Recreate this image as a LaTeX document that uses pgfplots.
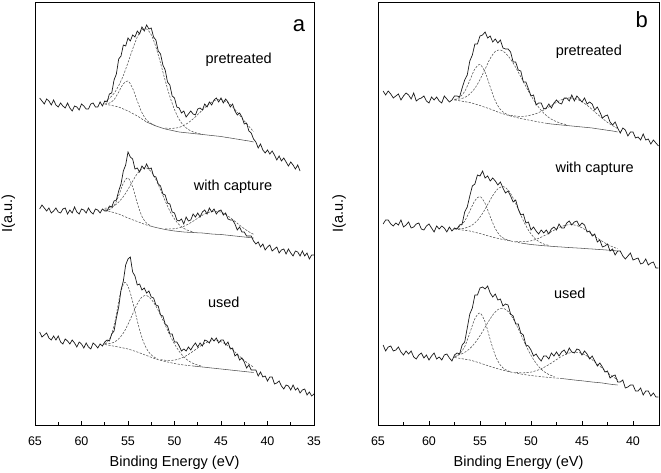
\documentclass[border=0pt]{standalone}
\usepackage{pgfplots}
\pgfplotsset{compat=1.18}
\usepackage{pgfplotstable}
\usepackage{fontspec}
\setmainfont{Liberation Sans}

\pgfplotstableread{
E p c u
64.50 327 216 93
64.25 324 220 88
64.00 321 217 90
63.75 326 214 92
63.50 324 217 87
63.25 320 212 85
63.00 325 214 89
62.75 320 217 85
62.50 318 213 89
62.25 322 212 83
62.00 319 216 81
61.75 317 217 86
61.50 322 211 84
61.25 317 215 81
61.00 314 212 85
60.75 319 218 82
60.50 318 213 78
60.25 315 211 83
60.00 321 216 81
59.75 319 215 77
59.50 316 212 82
59.25 316 217 78
59.00 321 213 76
58.75 322 211 82
58.50 318 216 80
58.25 318 215 77
58.00 323 212 81
57.75 319 216 79
57.50 324 214 83
57.25 323 214 85
57.00 331 219 84
56.75 332 218 91
56.50 345 224 94
56.25 351 225 107
56.00 366 234 118
55.75 369 241 135
55.50 380 254 144
55.25 379 260 160
55.00 387 273 166
54.75 384 268 168
54.50 390 266 153
54.25 388 256 149
54.00 394 257 140
53.75 391 253 141
53.50 398 259 135
53.25 394 256 137
53.00 400 261 132
52.75 396 256 134
52.50 397 257 128
52.25 388 249 127
52.00 385 248 120
51.75 374 241 119
51.50 371 239 110
51.25 360 231 109
51.00 355 230 101
50.75 343 222 99
50.50 340 221 91
50.25 329 213 91
50.00 327 212 83
49.75 318 205 83
49.50 317 204 79
49.25 312 206 74
49.00 314 201 76
48.75 308 208 74
48.50 311 204 78
48.25 314 205 75
48.00 311 211 79
47.75 310 208 82
47.50 316 212 78
47.25 317 208 82
47.00 315 213 79
46.75 321 215 85
46.50 318 211 84
46.25 323 217 82
46.00 320 213 87
45.75 325 216 84
45.50 327 211 87
45.25 323 214 82
45.00 327 215 85
44.75 322 210 85
44.50 326 212 80
44.25 323 206 83
44.00 318 205 76
43.75 321 205 77
43.50 314 201 69
43.25 310 195 71
43.00 312 198 65
42.75 308 193 67
42.50 301 193 63
42.25 302 189 57
42.00 294 189 60
41.75 292 189 55
41.50 286 184 55
41.25 283 181 55
41.00 277 183 49
40.75 281 178 53
40.50 275 181 48
40.25 272 175 49
40.00 275 178 44
39.75 271 180 48
39.50 274 174 48
39.25 270 176 41
39.00 265 178 42
38.75 269 172 44
38.50 264 175 39
38.25 267 176 36
38.00 263 171 40
37.75 259 176 39
37.50 263 172 35
37.25 260 169 40
37.00 256 174 35
36.75 260 173 37
36.50 254 169 32
36.25 nan 174 35
36.00 nan 169 36
35.75 nan 172 30
35.50 nan 166 33
35.25 nan 170 29
35.00 nan 170 31
}\tabA

\pgfplotstableread{
E p c u
64.50 334 201 80
64.25 330 205 74
64.00 334 205 78
63.75 331 201 79
63.50 327 199 74
63.25 329 202 75
63.00 331 200 78
62.75 325 205 73
62.50 329 198 70
62.25 332 200 74
62.00 330 203 71
61.75 326 197 74
61.50 332 198 68
61.25 324 201 66
61.00 326 202 70
60.75 327 196 72
60.50 329 195 67
60.25 324 199 70
60.00 322 201 65
59.75 328 197 69
59.50 325 193 72
59.25 328 199 66
59.00 324 196 68
58.75 322 199 65
58.50 329 197 70
58.25 326 193 71
58.00 323 198 67
57.75 325 194 64
57.50 329 197 70
57.25 329 196 72
57.00 328 200 71
56.75 337 201 80
56.50 345 213 83
56.25 350 218 97
56.00 364 229 111
55.75 370 239 117
55.50 381 241 130
55.25 381 250 130
55.00 389 249 137
54.75 390 254 138
54.50 393 247 136
54.25 387 249 139
54.00 389 244 132
53.75 383 247 128
53.50 386 244 131
53.25 382 240 125
53.00 385 243 126
52.75 377 237 119
52.50 376 232 121
52.25 376 234 120
52.00 373 229 111
51.75 363 223 109
51.50 363 225 101
51.25 355 216 101
51.00 354 210 92
50.75 343 211 90
50.50 343 202 80
50.25 336 203 79
50.00 329 195 75
49.75 330 198 69
49.50 320 194 71
49.25 322 191 67
49.00 322 195 64
48.75 316 192 69
48.50 317 195 69
48.25 321 191 66
48.00 317 196 72
47.75 322 198 69
47.50 325 195 73
47.25 322 201 69
47.00 321 197 73
46.75 327 197 75
46.50 327 202 71
46.25 324 204 77
46.00 330 200 73
45.75 324 203 72
45.50 329 204 76
45.25 326 199 75
45.00 323 202 70
44.75 327 200 74
44.50 321 193 71
44.25 323 194 66
44.00 321 189 69
43.75 315 191 64
43.50 318 183 59
43.25 313 185 62
43.00 307 178 58
42.75 309 179 53
42.50 310 181 54
42.25 303 174 47
42.00 300 176 49
41.75 303 170 50
41.50 297 174 43
41.25 292 174 43
41.00 297 169 45
40.75 295 166 37
40.50 289 169 38
40.25 293 172 40
40.00 293 165 40
39.75 287 166 34
39.50 288 167 34
39.25 285 161 37
39.00 291 162 30
38.75 285 166 34
38.50 286 160 34
38.25 281 162 29
38.00 285 163 32
37.75 282 157 28
37.50 279 157 28
}\tabB

\pgfplotstableread{
E bp bc bu
57.5 321 215 80.5
57.0 320 213.7 79.7
56.5 319 212.3 78.8
56.0 318 211 78
55.5 316 209 77
55.0 314 207 76
54.5 311.5 205.2 74.5
54.0 309 203.5 73
53.5 306 201.7 71.2
53.0 303 200 69.5
52.5 301 198.7 67.7
52.0 299 197.5 66
51.5 297.5 196.5 64.7
51.0 296 195.5 63.5
50.5 295 194.7 62.5
50.0 294 194 61.5
49.5 293 193.5 60.7
49.0 292.5 193 60
48.5 292 192.7 59.5
48.0 291.5 192.5 59
47.5 291 192.2 58.5
47.0 290.5 192 58
46.5 290 191.5 57.5
46.0 289.5 191 57
45.5 289 190.7 56.5
45.0 288.5 190.5 56
44.5 287.7 190 55.5
44.0 287 189.5 55
43.5 286.2 189 54.5
43.0 285.5 188.5 54
42.5 284.7 188 53.5
42.0 284 187.5 53
41.5 283 187 52.5
}\bgA

\pgfplotstableread{
E bp bc bu
57.5 325 196 67.5
57.0 324.2 195.3 66.7
56.5 323.3 194.7 65.8
56.0 322.5 194 65
55.5 321 192.7 63.5
55.0 319.5 191.5 62
54.5 317.7 190 60.2
54.0 316 188.5 58.5
53.5 314 187.2 57
53.0 312 186 55.5
52.5 310.5 185 54.2
52.0 309 184 53
51.5 307.7 183 52
51.0 306.5 182 51
50.5 305.5 181.2 50.2
50.0 304.5 180.5 49.5
49.5 303.5 180 48.9
49.0 302.5 179.5 48.3
48.5 301.7 179.1 47.8
48.0 301 178.7 47.3
47.5 300.5 178.3 46.9
47.0 300 178 46.5
46.5 299.5 177.6 45.9
46.0 299 177.3 45.3
45.5 298.5 177 44.7
45.0 298 176.7 44.2
44.5 297.5 176.3 43.6
44.0 297 176 43
43.5 296.2 175.6 42.5
43.0 295.5 175.3 42
42.5 294.7 174.9 41.2
42.0 294 174.5 40.5
41.5 293 174 40
}\bgB

\pgfplotsset{
  panel/.style={
    scale only axis, height=423pt, x dir=reverse,
    ymin=0, ymax=423, ytick=\empty,
    xtick pos=left, tick align=inside,
    minor x tick num=1,
    major tick length=4pt, minor tick length=2.5pt,
    axis line style={line width=0.9pt},
    every tick/.style={black, line width=0.8pt},
    /pgf/number format/assume math mode=true,
    xticklabel style={font=\fontsize{12.5}{14}\selectfont, yshift=-8pt},
    xlabel={Binding Energy (eV)},
    xlabel style={at={(axis description cs:0.5,0)}, anchor=base, yshift=-42pt, font=\fontsize{14.5}{17}\selectfont},
    ylabel={I(a.u.)},
  },
  dat/.style={no marks, line width=0.7pt, black!90},
  cmp/.style={no marks, smooth, line width=0.55pt, black!68, dash pattern=on 2.2pt off 1.4pt},
  bgs/.style={no marks, smooth, line width=0.55pt, black!68},
}

\begin{document}
\begin{tikzpicture}
\path[use as bounding box] (0,0) rectangle (661pt,473pt);

% ---------------- panel a ----------------
\begin{axis}[panel, at={(35pt,48pt)}, anchor=south west, width=279pt,
  xmin=35, xmax=65, xtick={35,40,...,65},
  ylabel style={at={(axis description cs:-0.0824,0.5)}, anchor=base, font=\fontsize{14.5}{17}\selectfont}]
% backgrounds
\addplot[cmp, restrict x to domain=53:58] table[x=E,y=bp]{\bgA};
\addplot[bgs, restrict x to domain=41:53] table[x=E,y=bp]{\bgA};
\addplot[cmp, restrict x to domain=52.5:58] table[x=E,y=bc]{\bgA};
\addplot[bgs, restrict x to domain=41:52.5] table[x=E,y=bc]{\bgA};
\addplot[cmp, restrict x to domain=48:58] table[x=E,y=bu]{\bgA};
\addplot[bgs, restrict x to domain=41:48] table[x=E,y=bu]{\bgA};
% pretreated components
\addplot[cmp] coordinates {(57.5,321.1) (57,321.9) (56.5,325.3) (56,333) (55.5,341.2) (55,344) (54.5,336.7) (54,324) (53.5,312.3) (53,304.9) (52.5,301.4) (52,299.1)};
\addplot[cmp] coordinates {(57.5,323) (57,326.8) (56.5,331.6) (56,339.4) (55.5,349.5) (55,362.4) (54.5,375.9) (54,388) (53.5,395.3) (53,396) (52.5,390.3) (52,378) (51.5,361.9) (51,344.4) (50.5,328.5) (50,315.4) (49.5,305.6) (49,299.3) (48.5,295.4) (48,293.1) (47.5,291.7) (47,290.8)};
\addplot[cmp] coordinates {(51,296.9) (50.5,296.6) (50,296.8) (49.5,297.6) (49,299.6) (48.5,302.4) (48,306.1) (47.5,310.4) (47,315) (46.5,319.3) (46,322.9) (45.5,325) (45,325.5) (44.5,323.7) (44,320.4) (43.5,315.5) (43,310) (42.5,304.1) (42,298.6) (41.5,293.4)};
% with capture components
\addplot[cmp] coordinates {(57.5,215.2) (57,215.5) (56.5,219.2) (56,229.3) (55.5,241.9) (55,247) (54.5,238.1) (54,221.8) (53.5,208.6) (53,201.8) (52.5,199)};
\addplot[cmp] coordinates {(57.5,216.7) (57,217.3) (56.5,219.1) (56,223) (55.5,228.3) (55,235.6) (54.5,243.8) (54,251.4) (53.5,256.3) (53,257) (52.5,253.3) (52,245.4) (51.5,235.1) (51,224.1) (50.5,214) (50,206) (49.5,200.3) (49,196.6) (48.5,194.4) (48,193.2)};
\addplot[cmp] coordinates {(51,196.2) (50.5,196.1) (50,196.3) (49.5,197.2) (49,198.7) (48.5,201) (48,203.8) (47.5,206.8) (47,209.8) (46.5,212) (46,213.4) (45.5,213.7) (45,212.9) (44.5,210.5) (44,207.3) (43.5,203.6) (43,199.8) (42.5,196.3) (42,193.2) (41.5,190.7)};
% used components
\addplot[cmp] coordinates {(57.5,81) (57.35,82.2) (56.85,88.3) (56.35,105.6) (55.85,130.5) (55.35,142.7) (54.85,135) (54.35,117.7) (53.85,98.6) (53.35,83.4) (52.85,74) (52.35,68.8) (51.85,66.3)};
\addplot[cmp] coordinates {(57.5,81.2) (57,81.4) (56.5,82.8) (56,86.1) (55.5,91.9) (55,100.7) (54.5,110.9) (54,121.1) (53.5,128) (53,129.5) (52.5,125.8) (52,118.9) (51.5,110) (51,99.9) (50.5,90) (50,81) (49.5,73.7) (49,68.1) (48.5,64.3) (48,61.6) (47.5,59.9) (47,58.7)};
\addplot[cmp] coordinates {(51.5,65.4) (51,64.7) (50.5,64.6) (50,64.9) (49.5,66.1) (49,67.9) (48.5,70.6) (48,73.7) (47.5,77) (47,80.2) (46.5,82.8) (46,84.3) (45.5,84.5) (45,83.3) (44.5,80.8) (44,77.2) (43.5,73) (43,68.7) (42.5,64.6) (42,60.9) (41.5,57.9)};
% spectra
\addplot[dat] table[x=E,y=p]{\tabA};
\addplot[dat] table[x=E,y=c]{\tabA};
\addplot[dat] table[x=E,y=u]{\tabA};
\node[anchor=base, font=\fontsize{14.5}{17}\selectfont] at (axis cs:43.1,361) {pretreated};
\node[anchor=base, font=\fontsize{14.5}{17}\selectfont] at (axis cs:43.7,234) {with capture};
\node[anchor=base, font=\fontsize{14.5}{17}\selectfont] at (axis cs:44.7,117) {used};
\node[anchor=base, font=\fontsize{22}{24}\selectfont] at (axis cs:36.6,393) {a};
\end{axis}

% ---------------- panel b ----------------
\begin{axis}[panel, at={(378pt,48pt)}, anchor=south west, width=281pt,
  xmin=37.45, xmax=65, xtick={40,45,...,65},
  ylabel style={at={(axis description cs:-0.1246,0.5)}, anchor=base, font=\fontsize{14.5}{17}\selectfont}]
\addplot[cmp, restrict x to domain=48.5:58] table[x=E,y=bp]{\bgB};
\addplot[bgs, restrict x to domain=41:48.5] table[x=E,y=bp]{\bgB};
\addplot[cmp, restrict x to domain=51:58] table[x=E,y=bc]{\bgB};
\addplot[bgs, restrict x to domain=41:51] table[x=E,y=bc]{\bgB};
\addplot[cmp, restrict x to domain=47:58] table[x=E,y=bu]{\bgB};
\addplot[bgs, restrict x to domain=41:47] table[x=E,y=bu]{\bgB};
% pretreated components
\addplot[cmp] coordinates {(57.5,325.2) (57,327.7) (56.5,333.5) (56,344.6) (55.5,356.1) (55,360.5) (54.5,352.8) (54,338.1) (53.5,324.2) (53,315.5) (52.5,311.4) (52,309.2)};
\addplot[cmp] coordinates {(57.5,325.7) (57,326) (56.5,327.5) (56,331) (55.5,336.7) (55,345.4) (54.5,355.9) (54,366.5) (53.5,373.6) (53,375) (52.5,371.9) (52,365.8) (51.5,357.6) (51,348.2) (50.5,338.5) (50,329.4) (49.5,321.3) (49,314.6) (48.5,309.4) (48,305.8) (47.5,303.3) (47,301.5) (46.5,300.3)};
\addplot[cmp] coordinates {(52,309.7) (51.5,308.9) (51,308.6) (50.5,308.9) (50,309.9) (49.5,311.4) (49,313.6) (48.5,316.4) (48,319.5) (47.5,322.7) (47,325.3) (46.5,326.8) (46,327) (45.5,325.8) (45,323.3) (44.5,319.7) (44,315.5) (43.5,310.9) (43,306.6) (42.5,302.6) (42,299.4) (41.5,296.4)};
% with capture components
\addplot[cmp] coordinates {(57.5,196.2) (57,198.4) (56.5,203.9) (56,213.9) (55.5,224.4) (55,228.5) (54.5,221.7) (54,208.4) (53.5,196.4) (53,189.1) (52.5,185.8) (52,184.2)};
\addplot[cmp] coordinates {(57.5,196.1) (57.2,196.2) (56.7,196.4) (56.2,197.8) (55.7,200.4) (55.2,205.2) (54.7,212.4) (54.2,221.3) (53.7,230.2) (53.2,236.6) (52.7,238.4) (52.2,234.5) (51.7,225.9) (51.2,214.6) (50.7,203.3) (50.2,194) (49.7,187.4) (49.2,183.2) (48.7,180.8) (48.2,179.5)};
\addplot[cmp] coordinates {(51.5,183.7) (51,183.4) (50.5,183.5) (50,184.2) (49.5,185.7) (49,187.8) (48.5,190.4) (48,193.3) (47.5,196.1) (47,198.5) (46.5,200) (46,200.3) (45.5,199.4) (45,197.2) (44.5,194.1) (44,190.6) (43.5,186.9) (43,183.6) (42.5,180.6) (42,178.2) (41.5,176.3)};
% used components
\addplot[cmp] coordinates {(57.5,67.7) (57,71) (56.5,78.3) (56,92) (55.5,106.4) (55,112) (54.5,103.1) (54,85.5) (53.5,69.5) (53,59.8) (52.5,55.3) (52,53.3)};
\addplot[cmp] coordinates {(57.5,68.5) (57.2,69.7) (56.7,71.5) (56.2,74.7) (55.7,79.5) (55.2,86.2) (54.7,94.3) (54.2,103) (53.7,110.7) (53.2,115.7) (52.7,116.7) (52.2,113.1) (51.7,105.5) (51.2,95.2) (50.7,83.9) (50.2,73.4) (49.7,64.7) (49.2,57.9) (48.7,53.3) (48.2,50.2) (47.7,48.4)};
\addplot[cmp] coordinates {(51.5,52.7) (51,52.2) (50.5,52.3) (50,52.9) (49.5,54.3) (49,56.2) (48.5,58.9) (48,62) (47.5,65.4) (47,68.7) (46.5,71.2) (46,72.6) (45.5,72.7) (45,71.5) (44.5,68.9) (44,65.2) (43.5,61) (43,56.7) (42.5,52.3) (42,48.4) (41.5,45.4)};
% spectra
\addplot[dat] table[x=E,y=p]{\tabB};
\addplot[dat] table[x=E,y=c]{\tabB};
\addplot[dat] table[x=E,y=u]{\tabB};
\node[anchor=base, font=\fontsize{14.5}{17}\selectfont] at (axis cs:44.33,369) {pretreated};
\node[anchor=base, font=\fontsize{14.5}{17}\selectfont] at (axis cs:43.76,252) {with capture};
\node[anchor=base, font=\fontsize{14.5}{17}\selectfont] at (axis cs:46.2,126) {used};
\node[anchor=base, font=\fontsize{22}{24}\selectfont] at (axis cs:39.15,397) {b};
\end{axis}
\end{tikzpicture}
\end{document}
